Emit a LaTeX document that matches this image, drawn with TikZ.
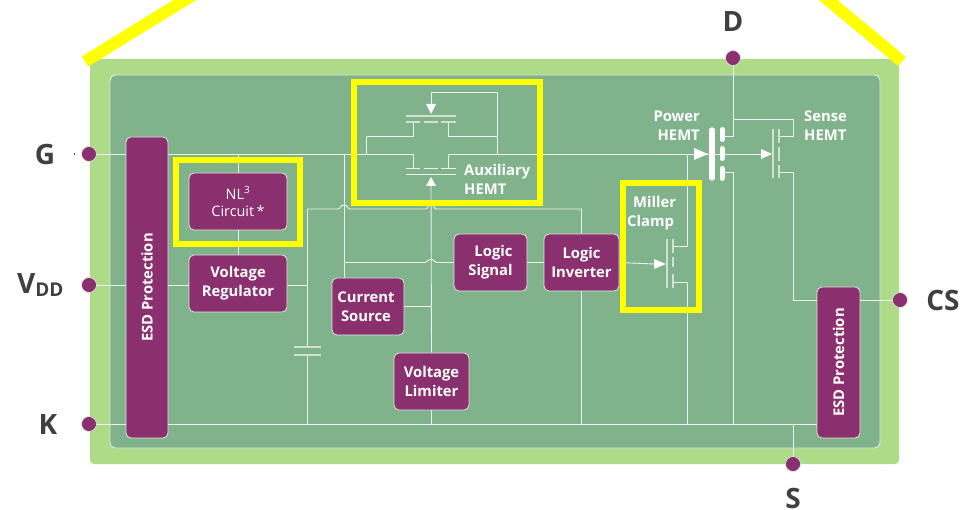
\documentclass[tikz,border=0pt]{standalone}
\usepackage{fontspec}
\setmainfont{Open Sans}
\usetikzlibrary{calc}
\definecolor{outerg}{HTML}{ADDB87}
\definecolor{innerg}{HTML}{80B28C}
\definecolor{purp}{HTML}{8A306E}
\definecolor{wire}{HTML}{ECF3EE}
\definecolor{fetc}{HTML}{CFE2D4}
\definecolor{edge}{HTML}{E2E9E3}
\definecolor{ylw}{HTML}{FFFF00}
\definecolor{lbl}{HTML}{404040}
\pgfdeclarelayer{bgl}\pgfdeclarelayer{wires}\pgfdeclarelayer{fgl}
\pgfsetlayers{bgl,wires,main,fgl}
\tikzset{
 x=1pt,y=-1pt,
 pbox/.style={rectangle,rounded corners=5pt,fill=purp,draw=edge,line width=.8pt,text=white,align=center,inner sep=0pt,font=\fontsize{14.8}{19}\selectfont\bfseries},
 thinbox/.style={pbox,font=\fontsize{14.4}{18}\selectfont},
 pin/.style={circle,fill=purp,draw=edge,line width=.6pt,minimum size=15pt,inner sep=0pt},
 wr/.style={draw=wire,line width=.9pt},
 fet/.style={draw=fetc,line width=1.2pt},
 head/.style={fill=white,draw=none},
 yb/.style={draw=ylw,line width=6pt},
 yd/.style={draw=ylw,line width=12pt},
 pinlbl/.style={text=lbl,font=\fontsize{28}{28}\selectfont\bfseries,inner sep=0pt},
 wlbl/.style={text=white,font=\fontsize{14.8}{19}\selectfont\bfseries,inner sep=0pt},
}
\begin{document}
\begin{tikzpicture}
\useasboundingbox (0,0) rectangle (969,510);
\begin{pgfonlayer}{bgl}
 \fill[white] (0,0) rectangle (969,510);
 \fill[outerg,rounded corners=4pt] (90,59) rectangle (899,464);
 \draw[fill=innerg,draw=edge,line width=.9pt,rounded corners=6pt] (110,75) rectangle (880,448);
\end{pgfonlayer}

% pins
\node[pin] (pinG) at (89,154) {};
\node[pin] (pinV) at (89,285) {};
\node[pin] (pinK) at (89,424) {};
\node[pin] (pinD) at (733,58) {};
\node[pin] (pinCS) at (900,300) {};
\node[pin] (pinS) at (793,464) {};
% labels
\node[pinlbl] (lG) at (45,155) {G};
\node[pinlbl,anchor=base west] (lV) at (17,294) {V\raisebox{-3pt}{\fontsize{19}{19}\selectfont DD}};
\node[pinlbl] (lK) at (48,425) {K};
\node[pinlbl] (lD) at (733,22) {D};
\node[pinlbl] (lCS) at (943,301) {CS};
\node[pinlbl] (lS) at (793,498) {S};
\fill[lbl] (74,153) rectangle (75,155);

% boxes
\node[pbox,minimum width=42pt,minimum height=301pt] (esdL) at (147,287.5) {\rotatebox{90}{ESD Protection}};
\node[pbox,minimum width=43pt,minimum height=151pt] (esdR) at (838.5,362.5) {\rotatebox{90}{ESD Protection}};
\node[thinbox,minimum width=98pt,minimum height=57pt] (nl) at (238,201.5) {NL\textsuperscript{3}\\[-1pt]Circuit\,*};
\node[pbox,minimum width=98pt,minimum height=57pt] (vreg) at (238,283.5) {Voltage\\Regulator};
\node[pbox,minimum width=72pt,minimum height=57pt] (cur) at (368,306.5) {\hspace*{-4pt}Current\\\hspace*{-4pt}Source};
\node[pbox,minimum width=75pt,minimum height=57pt] (lim) at (431.5,381.5) {Voltage\\Limiter};
\node[pbox,minimum width=73pt,minimum height=57pt] (sig) at (490.5,262.5) {\hspace*{6pt}Logic\\Signal};
\node[pbox,minimum width=75pt,minimum height=57pt] (inv) at (581.5,262.5) {Logic\\Inverter};

% junction and terminal coordinates
\coordinate (auxUS) at (413,122);
\coordinate (auxUD) at (448,122);
\coordinate (auxLS) at (413,168);
\coordinate (auxLD) at (448,168);
\coordinate (auxUG) at (431,104);
\coordinate (auxLG) at (431,186);
\coordinate (j366) at (366,154);
\coordinate (j344) at (344,154);
\coordinate (j497) at (497,154);
\coordinate (j687) at (687,154);
\coordinate (pwrD) at (725,136);
\coordinate (pwrS) at (725,172);
\coordinate (senA) at (761,154);
\coordinate (senD) at (779,136);
\coordinate (senS) at (779,172);
\coordinate (milD) at (673,246);
\coordinate (milS) at (673,282);
\coordinate (milA) at (654,264);
\coordinate (capT) at (307,347);
\coordinate (capB) at (307,355);
\coordinate (r209) at (307,209);
\coordinate (j431a) at (431,306);

\begin{pgfonlayer}{wires}
 % gate rail
 \draw[wr] (pinG) -- (auxLS |- pinG) -- (auxLS);
 \draw[wr] (auxLD) -- (auxLD |- pinG) -- (senA);
 % auxiliary upper device
 \draw[wr] (j366) -- (366,136) -| (auxUS);
 \draw[wr] (auxUD) |- (497,136);
 \draw[wr] (j497) -- (497,92) -| (auxUG);
 % NL3 and regulator
 \draw[wr] (238,154) -- (nl.north);
 \draw[wr] (nl.south) -- (vreg.north);
 \draw[wr] (pinV) -- (vreg.west |- pinV);
 \draw[wr] (vreg.east |- pinV) -- (307,285);
 \draw[wr] (r209) -- (capT);
 \draw[wr] (capB) -- (capB |- pinK);
 % rail y=209 with hops
 \draw[wr] (r209) -- (338,209) .. controls (340.5,209) and (340,205) .. (344,205) .. controls (348,205) and (347.5,209) .. (350,209)
   -- (425.5,209) .. controls (428,209) and (427.5,205) .. (431,205) .. controls (434.5,205) and (434,209) .. (436.5,209)
   -- (inv.north |- r209) -- (inv.north);
 % rail y=263 with hop
 \draw[wr] (j344) -- (j344 |- cur.north);
 \draw[wr] (j344 |- sig.west) -- (425.5,262.5) .. controls (428,262.5) and (427.5,259) .. (431,259) .. controls (434.5,259) and (434,262.5) .. (436.5,262.5) -- (sig.west);
 \draw[wr] (sig.east) -- (inv.west);
 \draw[wr] (inv.east) -- (milA);
 % vertical supply of aux
 \draw[wr] (auxLG) -- (lim.north);
 \draw[wr] (cur.east |- j431a) -- (j431a);
 \draw[wr] (lim.south) -- (lim.south |- pinK);
 % K rail
 \draw[wr] (pinK) -- (esdR.west |- pinK);
 \draw[wr] (inv.south) -- (inv.south |- pinK);
 \draw[wr] (pinS) -- (pinS |- pinK);
 % miller
 \draw[wr] (j687) -- (687,246) -- (milD);
 \draw[wr] (milS) -- (687,282) -- (687,424);
 % power and sense
 \draw[wr] (pinD) -- (733,136) -- (pwrD);
 \draw[wr] (733,119) -- (793,119) -- (793,136) -- (senD);
 \draw[wr] (pwrS) -- (733,172) -- (733,424);
 \draw[wr] (senS) -- (793,172) |- (esdR.west |- pinCS);
 \draw[wr] (esdR.east |- pinCS) -- (pinCS);
\end{pgfonlayer}

% auxiliary HEMT symbols
\draw[fet] (406,116) -- (456,116);
\draw[fet] (406,122) -- (420,122) (424,122) -- (438,122) (441,122) -- (456,122);
\draw[wr] (406,168) -- (420,168) (424,168) -- (438,168) (441,168) -- (456,168);
\draw[wr] (406,174.5) -- (456,174.5);
\fill[head] (426,104) -- (436,104) -- (431,114) -- cycle;
\fill[head] (426,186) -- (436,186) -- (431,177) -- cycle;
% power HEMT
\draw[white,line width=5.5pt,line cap=round] (712,130) -- (712,178);
\draw[white,line width=5pt,line cap=round] (722,129.5) -- (722,139.5) (722,148.5) -- (722,158.5) (722,168.5) -- (722,178.5);
\fill[head] (694,148) -- (694,160) -- (708,154) -- cycle;
% sense HEMT
\draw[fet] (773,129) -- (773,178);
\draw[fet] (779,129) -- (779,143) (779,147) -- (779,161) (779,165) -- (779,178);
\fill[head] (761,149) -- (761,159) -- (772,154) -- cycle;
% miller FET
\draw[fet] (667,239) -- (667,288);
\draw[fet] (673,239) -- (673,253) (673,257) -- (673,267) (673,274) -- (673,288);
\fill[head] (654,259) -- (654,269) -- (666,264) -- cycle;
% capacitor
\draw[fet] (294,347) -- (321,347) (294,355) -- (321,355);

% free labels
\node[wlbl,align=right,anchor=east] (tPwr) at (700,125.5) {Power\\HEMT};
\node[wlbl,align=left,anchor=west] (tSen) at (804,125.5) {Sense\\HEMT};
\node[wlbl,align=left,anchor=west] (tAux) at (464,179.5) {Auxiliary\\HEMT};
\node[wlbl,align=left,anchor=west] (tMil) at (627,213.5) {\hspace*{6pt}Miller\\Clamp};

% yellow highlights
\begin{pgfonlayer}{fgl}
 \draw[yb] (176,160) rectangle (300,244);
 \draw[yb] (354,82) rectangle (540,203);
 \draw[yb] (623,183) rectangle (699,310);
 \draw[yd] (85,61.5) -- (201,-10);
 \draw[yd] (902,61.5) -- (816,-10);
\end{pgfonlayer}
\end{tikzpicture}
\end{document}
